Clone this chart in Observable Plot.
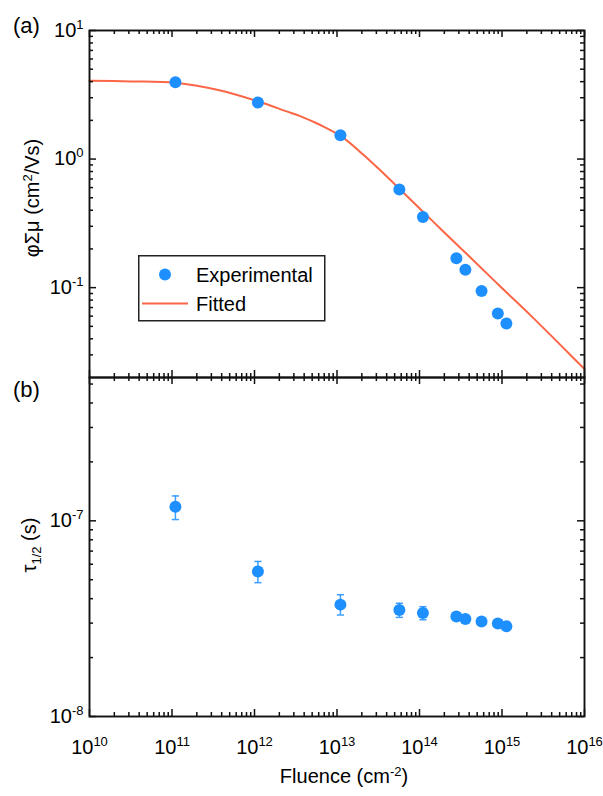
<!DOCTYPE html>
<html>
<head>
<meta charset="utf-8">
<script src="https://cdn.jsdelivr.net/npm/d3@7"></script>
<script src="https://cdn.jsdelivr.net/npm/@observablehq/plot@0.6"></script>
<style>
  body { margin: 0; background: #fff; font-family: "Liberation Sans", Arial, Helvetica, sans-serif; color: #000; }
  #wrap { position: relative; width: 603px; height: 796px; overflow: hidden; }
  #top, #bot { position: absolute; left: 0; }
  #top { top: 0; }
  #bot { top: 376px; }
  .tag { position: absolute; font-size: 22px; line-height: 1; white-space: nowrap; }
  .ytitle { position: absolute; font-size: 20px; line-height: 1; white-space: nowrap; transform: translate(-50%, -50%) rotate(-90deg); }
  .sup { font-size: 13px; position: relative; top: -0.55em; }
  .sub { font-size: 13px; position: relative; top: 0.35em; }
  #xtitle { position: absolute; font-size: 20px; line-height: 1; white-space: nowrap; transform: translateX(-50%); }
  #legend { position: absolute; left: 138px; top: 255px; }
</style>
</head>
<body>
<div id="wrap">
  <div id="top"></div>
  <div id="bot"></div>
</div>
<script>
// ---------- data ----------
const fluence   = [1.1e11, 1.1e12, 1.1e13, 5.7e13, 1.1e14, 2.8e14, 3.6e14, 5.65e14, 8.9e14, 1.13e15];
const phiSumMu  = [3.95, 2.75, 1.53, 0.58, 0.354, 0.169, 0.138, 0.0942, 0.063, 0.0526];
const tauHalf   = [1.18e-7, 5.51e-8, 3.73e-8, 3.50e-8, 3.38e-8, 3.24e-8, 3.15e-8, 3.06e-8, 2.99e-8, 2.89e-8];
const tauLow    = [1.015e-7, 4.83e-8, 3.30e-8, 3.21e-8, 3.12e-8, 3.12e-8, 3.05e-8, 2.97e-8, 2.90e-8, 2.80e-8];
const tauHigh   = [1.34e-7, 6.2e-8, 4.19e-8, 3.79e-8, 3.64e-8, 3.37e-8, 3.26e-8, 3.15e-8, 3.08e-8, 2.98e-8];
const fitFluence = [1e10, 3.16e10, 1.1e11, 3.63e11, 1.12e12, 2.4e12, 3.63e12, 6.3e12, 1.15e13, 2.09e13, 3.39e13, 5.75e13, 1.12e14, 1.9e14, 4.17e14, 9.55e14, 2.24e15, 5.13e15, 1e16];
const fitValue   = [4.06, 4.02, 3.92, 3.44, 2.80, 2.36, 2.15, 1.84, 1.49, 1.08, 0.81, 0.585, 0.386, 0.277, 0.171, 0.102, 0.0606, 0.0357, 0.0233];
const xTicks     = [1e10, 1e11, 1e12, 1e13, 1e14, 1e15, 1e16];
const yTopTicks  = [0.1, 1, 10];
const yBotTicks  = [1e-8, 1e-7];
const xDomain    = [1e10, 1e16];
const yTopDomain = [0.02, 10];
const yBotDomain = [1e-8, 5.4e-7];

// ---------- styling ----------
const BLUE = "#1E8FFF";
const RED = "#FA6646";
const W = 603, ML = 89, MR = 19;
const PW = W - ML - MR;

function minorTicks([lo, hi]) {
  const out = [];
  for (let e = Math.floor(Math.log10(lo)); e <= Math.ceil(Math.log10(hi)); e++) {
    for (let k = 2; k <= 9; k++) {
      const v = k * Math.pow(10, e);
      if (v > lo * 1.0001 && v < hi * 0.9999) out.push(v);
    }
  }
  return out;
}
const xMinor = minorTicks(xDomain);

function tickMarks(yMajor, yMinor, PH) {
  const s = {stroke: "#111", strokeWidth: 1.5};
  return [
    Plot.tickY(yMinor, {...s, insetRight: PW - 4}),
    Plot.tickY(yMajor, {...s, insetRight: PW - 7}),
    Plot.tickY(yMinor, {...s, insetLeft: PW - 4}),
    Plot.tickY(yMajor, {...s, insetLeft: PW - 7}),
    Plot.tickX(xMinor, {...s, insetBottom: PH - 4}),
    Plot.tickX(xTicks, {...s, insetBottom: PH - 7}),
    Plot.tickX(xMinor, {...s, insetTop: PH - 4}),
    Plot.tickX(xTicks, {...s, insetTop: PH - 7})
  ];
}

const expFmt = d => "10^" + Math.round(Math.log10(d));
const baseStyle = {fontSize: "20px", fontFamily: "'Liberation Sans', Arial, Helvetica, sans-serif", color: "#000", background: "transparent", overflow: "visible"};

// ---------- top panel ----------
const points = fluence.map((f, i) => ({f, v: phiSumMu[i], t: tauHalf[i], lo: tauLow[i], hi: tauHigh[i]}));
const fit = fitFluence.map((f, i) => ({f, v: fitValue[i]}));

const topH = 377, topMT = 30, topMB = 0;
const topPlot = Plot.plot({
  width: W, height: topH,
  marginLeft: ML, marginRight: MR, marginTop: topMT, marginBottom: topMB,
  style: baseStyle,
  x: {type: "log", domain: xDomain, axis: null},
  y: {type: "log", domain: yTopDomain},
  marks: [
    Plot.line(fit, {x: "f", y: "v", stroke: RED, strokeWidth: 2, curve: "catmull-rom"}),
    Plot.dot(points, {x: "f", y: "v", r: 6, fill: BLUE}),
    ...tickMarks(yTopTicks, minorTicks(yTopDomain), topH - topMT - topMB),
    Plot.axisY({ticks: yTopTicks, tickSize: 0, tickPadding: 6, tickFormat: expFmt, label: null}),
    Plot.frame({stroke: "#111", strokeWidth: 1.9})
  ]
});
document.getElementById("top").appendChild(topPlot);

// ---------- bottom panel ----------
const capSymbol = {draw(ctx) { ctx.moveTo(-3.6, 0); ctx.lineTo(3.6, 0); }};
const botH = 420, botMT = 1, botMB = 80;
const botPlot = Plot.plot({
  width: W, height: botH,
  marginLeft: ML, marginRight: MR, marginTop: botMT, marginBottom: botMB,
  style: baseStyle,
  x: {type: "log", domain: xDomain},
  y: {type: "log", domain: yBotDomain},
  marks: [
    Plot.ruleX(points, {x: "f", y1: "lo", y2: "hi", stroke: BLUE, strokeWidth: 1.5, strokeOpacity: 0.85}),
    Plot.dot(points, {x: "f", y: "lo", symbol: capSymbol, stroke: BLUE, strokeWidth: 1.5, fill: "none", strokeOpacity: 0.85}),
    Plot.dot(points, {x: "f", y: "hi", symbol: capSymbol, stroke: BLUE, strokeWidth: 1.5, fill: "none", strokeOpacity: 0.85}),
    Plot.dot(points, {x: "f", y: "t", r: 6, fill: BLUE}),
    ...tickMarks(yBotTicks, minorTicks(yBotDomain), botH - botMT - botMB),
    Plot.axisY({ticks: yBotTicks, tickSize: 0, tickPadding: 6, tickFormat: expFmt, label: null}),
    Plot.axisX({ticks: xTicks, tickSize: 0, tickPadding: 23, tickFormat: expFmt, label: null}),
    Plot.frame({stroke: "#111", strokeWidth: 1.9})
  ]
});
document.getElementById("bot").appendChild(botPlot);

// superscript exponents in tick labels
function supLabels(svg) {
  svg.querySelectorAll("text").forEach(t => {
    const m = /^10\^(-?\d+)$/.exec(t.textContent);
    if (!m) return;
    t.textContent = "10";
    const s = document.createElementNS("http://www.w3.org/2000/svg", "tspan");
    s.setAttribute("dy", "-8");
    s.setAttribute("font-size", "13");
    s.textContent = m[1];
    t.appendChild(s);
  });
}
supLabels(topPlot);
supLabels(botPlot);

// ---------- text labels ----------
const wrap = document.getElementById("wrap");
function addDiv(cls, html, css) {
  const d = document.createElement("div");
  d.className = cls;
  d.innerHTML = html;
  Object.assign(d.style, css);
  wrap.appendChild(d);
  return d;
}
addDiv("tag", "(a)", {left: "13px", top: "15px"});
addDiv("tag", "(b)", {left: "13px", top: "379px"});
addDiv("ytitle", "φΣμ (cm<span class='sup'>2</span>/Vs)", {left: "32px", top: "198px"});
addDiv("ytitle", "τ<span class='sub'>1/2</span> (s)", {left: "29px", top: "545px"});
const xt = addDiv("", "Fluence (cm<span class='sup'>-2</span>)", {left: "344px", top: "766px"});
xt.id = "xtitle";

// ---------- legend ----------
const NS = "http://www.w3.org/2000/svg";
const lg = document.createElementNS(NS, "svg");
lg.setAttribute("id", "legend");
lg.setAttribute("width", "188");
lg.setAttribute("height", "67");
lg.innerHTML = `
  <rect x="0.75" y="0.75" width="186" height="65" fill="#fff" stroke="#222" stroke-width="1.5"/>
  <circle cx="27" cy="19.5" r="6" fill="${BLUE}"/>
  <line x1="4" x2="50" y1="48.5" y2="48.5" stroke="${RED}" stroke-width="2"/>
  <text x="58" y="26.5" font-size="20" font-family="'Liberation Sans', Arial, sans-serif">Experimental</text>
  <text x="58" y="55.5" font-size="20" font-family="'Liberation Sans', Arial, sans-serif">Fitted</text>`;
wrap.appendChild(lg);
</script>
</body>
</html>
